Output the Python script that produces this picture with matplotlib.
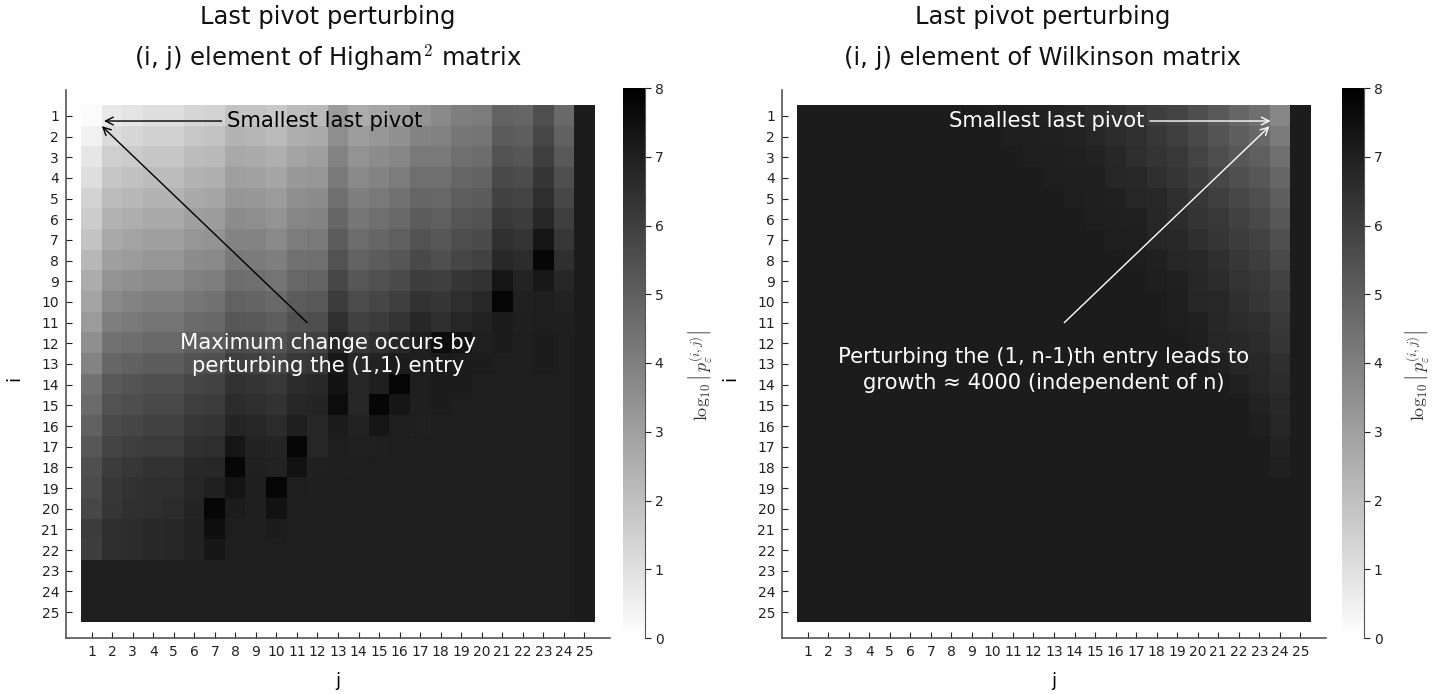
import numpy as np
import matplotlib
matplotlib.use("Agg")
import matplotlib.pyplot as plt

plt.rcParams['font.family'] = ['DejaVu Sans']
plt.rcParams['mathtext.fontset'] = 'cm'

# log10 |last pivot| when perturbing (i, j)
higham_sq = [
    [0.15, 0.7, 0.85, 1.0, 1.0, 1.3, 1.4, 1.9, 1.85, 1.7, 2.1, 2.2, 3.1, 2.6, 2.8, 3.0, 3.4, 3.7, 4.0, 4.1, 4.9, 4.8, 5.5, 4.7, 7.1],
    [0.45, 1.15, 1.3, 1.45, 1.45, 1.75, 1.85, 2.35, 2.3, 2.15, 2.55, 2.65, 3.55, 3.05, 3.25, 3.45, 3.85, 3.95, 4.25, 4.35, 5.15, 5.05, 5.75, 4.95, 7.1],
    [0.8, 1.5, 1.65, 1.8, 1.8, 2.1, 2.2, 2.7, 2.65, 2.5, 2.9, 3.0, 3.9, 3.4, 3.6, 3.8, 4.2, 4.2, 4.5, 4.6, 5.4, 5.3, 6.0, 5.2, 7.1],
    [1.05, 1.8, 1.95, 2.1, 2.1, 2.4, 2.5, 3.0, 2.95, 2.8, 3.2, 3.3, 4.2, 3.7, 3.9, 4.1, 4.5, 4.5, 4.8, 4.9, 5.7, 5.6, 6.3, 5.5, 7.1],
    [1.35, 2.1, 2.25, 2.4, 2.4, 2.7, 2.8, 3.3, 3.25, 3.1, 3.5, 3.6, 4.5, 4.0, 4.2, 4.4, 4.8, 4.75, 5.05, 5.15, 5.95, 5.85, 6.55, 5.75, 7.1],
    [1.6, 2.4, 2.55, 2.7, 2.7, 3.0, 3.1, 3.6, 3.55, 3.4, 3.8, 3.9, 4.8, 4.3, 4.5, 4.7, 5.1, 5.0, 5.3, 5.4, 6.2, 6.1, 6.8, 6.0, 7.1],
    [1.9, 2.7, 2.85, 3.0, 3.0, 3.3, 3.4, 3.9, 3.85, 3.7, 4.1, 4.2, 5.1, 4.6, 4.8, 5.0, 5.4, 5.25, 5.55, 5.65, 6.45, 6.35, 7.3, 6.25, 7.1],
    [2.25, 3.0, 3.15, 3.3, 3.3, 3.6, 3.7, 4.2, 4.15, 4.0, 4.4, 4.5, 5.4, 4.9, 5.1, 5.3, 5.7, 5.5, 5.8, 5.9, 6.7, 6.6, 7.8, 6.5, 7.1],
    [2.6, 3.35, 3.5, 3.65, 3.65, 3.95, 4.05, 4.55, 4.5, 4.35, 4.75, 4.85, 5.75, 5.25, 5.45, 5.65, 6.05, 6.0, 6.3, 6.4, 7.3, 6.85, 7.2, 6.75, 7.1],
    [2.9, 3.7, 3.85, 4.0, 4.0, 4.3, 4.4, 4.9, 4.85, 4.7, 5.1, 5.2, 6.1, 5.6, 5.8, 6.0, 6.4, 6.3, 6.55, 6.7, 7.8, 6.95, 7.05, 6.9, 7.1],
    [3.15, 4.05, 4.2, 4.35, 4.35, 4.65, 4.75, 5.25, 5.2, 5.05, 5.45, 5.55, 6.45, 5.95, 6.15, 6.35, 6.75, 6.55, 6.8, 6.9, 7.1, 7.0, 7.05, 7.0, 7.1],
    [3.5, 4.4, 4.55, 4.7, 4.7, 5.0, 5.1, 5.6, 5.55, 5.4, 5.8, 5.9, 6.8, 6.3, 6.5, 6.7, 7.0, 7.6, 7.4, 6.95, 7.1, 7.05, 7.1, 7.05, 7.1],
    [3.9, 4.8, 4.95, 5.1, 5.1, 5.4, 5.5, 6.0, 5.95, 5.8, 6.2, 6.3, 7.2, 6.7, 6.9, 7.1, 7.0, 7.15, 7.1, 7.1, 7.05, 7.05, 7.1, 7.05, 7.1],
    [4.4, 5.2, 5.35, 5.5, 5.5, 5.8, 5.9, 6.4, 6.35, 6.2, 6.6, 6.7, 7.4, 6.75, 7.0, 7.8, 7.0, 7.1, 7.1, 7.05, 7.05, 7.05, 7.05, 7.05, 7.1],
    [4.65, 5.4, 5.55, 5.7, 5.7, 6.0, 6.1, 6.6, 6.55, 6.4, 6.8, 6.85, 7.6, 6.75, 7.8, 7.3, 7.0, 7.1, 7.05, 7.05, 7.05, 7.05, 7.05, 7.05, 7.1],
    [4.95, 5.65, 5.8, 5.95, 5.95, 6.25, 6.35, 6.85, 6.8, 6.65, 7.0, 6.8, 7.1, 6.9, 7.3, 7.05, 6.95, 7.05, 7.05, 7.05, 7.05, 7.05, 7.05, 7.05, 7.1],
    [5.25, 5.85, 6.0, 6.15, 6.15, 6.45, 6.55, 7.3, 6.9, 6.85, 7.8, 6.8, 7.05, 6.95, 7.0, 7.05, 7.05, 7.05, 7.05, 7.05, 7.05, 7.05, 7.05, 7.05, 7.1],
    [5.5, 6.1, 6.25, 6.4, 6.4, 6.7, 6.75, 7.8, 6.95, 6.9, 7.4, 6.95, 7.05, 7.0, 7.05, 7.05, 7.05, 7.05, 7.05, 7.05, 7.05, 7.05, 7.05, 7.05, 7.1],
    [5.6, 6.25, 6.4, 6.5, 6.55, 6.8, 6.95, 7.35, 7.0, 7.8, 7.05, 7.0, 7.05, 7.05, 7.05, 7.05, 7.05, 7.05, 7.05, 7.05, 7.05, 7.05, 7.05, 7.05, 7.1],
    [5.75, 6.3, 6.45, 6.55, 6.6, 6.85, 7.8, 7.1, 7.0, 7.4, 7.05, 7.05, 7.05, 7.05, 7.05, 7.05, 7.05, 7.05, 7.05, 7.05, 7.05, 7.05, 7.05, 7.05, 7.1],
    [6.1, 6.55, 6.6, 6.7, 6.75, 6.9, 7.5, 7.05, 7.05, 7.1, 7.05, 7.05, 7.05, 7.05, 7.05, 7.05, 7.05, 7.05, 7.05, 7.05, 7.05, 7.05, 7.05, 7.05, 7.1],
    [6.05, 6.55, 6.6, 6.7, 6.75, 6.9, 7.25, 7.05, 7.05, 7.05, 7.05, 7.05, 7.05, 7.05, 7.05, 7.05, 7.05, 7.05, 7.05, 7.05, 7.05, 7.05, 7.05, 7.05, 7.1],
    [7.05, 7.05, 7.05, 7.05, 7.05, 7.05, 7.05, 7.05, 7.05, 7.05, 7.05, 7.05, 7.05, 7.05, 7.05, 7.05, 7.05, 7.05, 7.05, 7.05, 7.05, 7.05, 7.05, 7.05, 7.1],
    [7.05, 7.05, 7.05, 7.05, 7.05, 7.05, 7.05, 7.05, 7.05, 7.05, 7.05, 7.05, 7.05, 7.05, 7.05, 7.05, 7.05, 7.05, 7.05, 7.05, 7.05, 7.05, 7.05, 7.05, 7.1],
    [7.05, 7.05, 7.05, 7.05, 7.05, 7.05, 7.05, 7.05, 7.05, 7.05, 7.05, 7.05, 7.05, 7.05, 7.05, 7.05, 7.05, 7.05, 7.05, 7.05, 7.05, 7.05, 7.05, 7.05, 7.1],
]

wilkinson = [
    [7.1, 7.1, 7.1, 7.1, 7.1, 7.1, 7.1, 7.1, 7.1, 7.05, 7.0, 6.95, 6.9, 6.8, 6.6, 6.5, 6.25, 6.05, 5.85, 5.55, 5.2, 4.8, 4.5, 3.8, 7.1],
    [7.1, 7.1, 7.1, 7.1, 7.1, 7.1, 7.1, 7.1, 7.1, 7.1, 7.05, 7.0, 6.95, 6.9, 6.8, 6.6, 6.45, 6.25, 6.0, 5.7, 5.35, 5.05, 4.75, 4.15, 7.1],
    [7.1, 7.1, 7.1, 7.1, 7.1, 7.1, 7.1, 7.1, 7.1, 7.1, 7.1, 7.05, 7.0, 6.95, 6.9, 6.75, 6.55, 6.35, 6.2, 5.85, 5.55, 5.25, 5.0, 4.5, 7.1],
    [7.1, 7.1, 7.1, 7.1, 7.1, 7.1, 7.1, 7.1, 7.1, 7.1, 7.1, 7.1, 7.05, 7.0, 7.0, 6.8, 6.7, 6.5, 6.3, 6.05, 5.75, 5.5, 5.25, 4.8, 7.1],
    [7.1, 7.1, 7.1, 7.1, 7.1, 7.1, 7.1, 7.1, 7.1, 7.1, 7.1, 7.1, 7.1, 7.05, 7.0, 6.95, 6.8, 6.7, 6.5, 6.25, 6.0, 5.75, 5.5, 5.05, 7.1],
    [7.1, 7.1, 7.1, 7.1, 7.1, 7.1, 7.1, 7.1, 7.1, 7.1, 7.1, 7.1, 7.1, 7.1, 7.05, 7.0, 6.95, 6.75, 6.6, 6.35, 6.2, 5.95, 5.7, 5.25, 7.1],
    [7.1, 7.1, 7.1, 7.1, 7.1, 7.1, 7.1, 7.1, 7.1, 7.1, 7.1, 7.1, 7.1, 7.1, 7.1, 7.05, 7.0, 6.8, 6.7, 6.5, 6.3, 6.1, 5.9, 5.5, 7.1],
    [7.1, 7.1, 7.1, 7.1, 7.1, 7.1, 7.1, 7.1, 7.1, 7.1, 7.1, 7.1, 7.1, 7.1, 7.1, 7.1, 7.05, 6.95, 6.8, 6.7, 6.5, 6.25, 6.05, 5.7, 7.1],
    [7.1, 7.1, 7.1, 7.1, 7.1, 7.1, 7.1, 7.1, 7.1, 7.1, 7.1, 7.1, 7.1, 7.1, 7.1, 7.1, 7.1, 7.05, 6.95, 6.75, 6.6, 6.35, 6.2, 5.9, 7.1],
    [7.1, 7.1, 7.1, 7.1, 7.1, 7.1, 7.1, 7.1, 7.1, 7.1, 7.1, 7.1, 7.1, 7.1, 7.1, 7.1, 7.1, 7.1, 7.0, 6.8, 6.7, 6.5, 6.3, 6.05, 7.1],
    [7.1, 7.1, 7.1, 7.1, 7.1, 7.1, 7.1, 7.1, 7.1, 7.1, 7.1, 7.1, 7.1, 7.1, 7.1, 7.1, 7.1, 7.1, 7.05, 6.95, 6.75, 6.6, 6.5, 6.2, 7.1],
    [7.1, 7.1, 7.1, 7.1, 7.1, 7.1, 7.1, 7.1, 7.1, 7.1, 7.1, 7.1, 7.1, 7.1, 7.1, 7.1, 7.1, 7.1, 7.1, 7.0, 6.8, 6.7, 6.6, 6.3, 7.1],
    [7.1, 7.1, 7.1, 7.1, 7.1, 7.1, 7.1, 7.1, 7.1, 7.1, 7.1, 7.1, 7.1, 7.1, 7.1, 7.1, 7.1, 7.1, 7.1, 7.1, 6.95, 6.8, 6.7, 6.5, 7.1],
    [7.1, 7.1, 7.1, 7.1, 7.1, 7.1, 7.1, 7.1, 7.1, 7.1, 7.1, 7.1, 7.1, 7.1, 7.1, 7.1, 7.1, 7.1, 7.1, 7.1, 7.1, 6.95, 6.8, 6.6, 7.1],
    [7.1, 7.1, 7.1, 7.1, 7.1, 7.1, 7.1, 7.1, 7.1, 7.1, 7.1, 7.1, 7.1, 7.1, 7.1, 7.1, 7.1, 7.1, 7.1, 7.1, 7.1, 7.1, 6.9, 6.7, 7.1],
    [7.1, 7.1, 7.1, 7.1, 7.1, 7.1, 7.1, 7.1, 7.1, 7.1, 7.1, 7.1, 7.1, 7.1, 7.1, 7.1, 7.1, 7.1, 7.1, 7.1, 7.1, 7.1, 7.0, 6.8, 7.1],
    [7.1, 7.1, 7.1, 7.1, 7.1, 7.1, 7.1, 7.1, 7.1, 7.1, 7.1, 7.1, 7.1, 7.1, 7.1, 7.1, 7.1, 7.1, 7.1, 7.1, 7.1, 7.1, 7.1, 6.9, 7.1],
    [7.1, 7.1, 7.1, 7.1, 7.1, 7.1, 7.1, 7.1, 7.1, 7.1, 7.1, 7.1, 7.1, 7.1, 7.1, 7.1, 7.1, 7.1, 7.1, 7.1, 7.1, 7.1, 7.1, 6.95, 7.1],
    [7.1, 7.1, 7.1, 7.1, 7.1, 7.1, 7.1, 7.1, 7.1, 7.1, 7.1, 7.1, 7.1, 7.1, 7.1, 7.1, 7.1, 7.1, 7.1, 7.1, 7.1, 7.1, 7.1, 7.1, 7.1],
    [7.1, 7.1, 7.1, 7.1, 7.1, 7.1, 7.1, 7.1, 7.1, 7.1, 7.1, 7.1, 7.1, 7.1, 7.1, 7.1, 7.1, 7.1, 7.1, 7.1, 7.1, 7.1, 7.1, 7.1, 7.1],
    [7.1, 7.1, 7.1, 7.1, 7.1, 7.1, 7.1, 7.1, 7.1, 7.1, 7.1, 7.1, 7.1, 7.1, 7.1, 7.1, 7.1, 7.1, 7.1, 7.1, 7.1, 7.1, 7.1, 7.1, 7.1],
    [7.1, 7.1, 7.1, 7.1, 7.1, 7.1, 7.1, 7.1, 7.1, 7.1, 7.1, 7.1, 7.1, 7.1, 7.1, 7.1, 7.1, 7.1, 7.1, 7.1, 7.1, 7.1, 7.1, 7.1, 7.1],
    [7.1, 7.1, 7.1, 7.1, 7.1, 7.1, 7.1, 7.1, 7.1, 7.1, 7.1, 7.1, 7.1, 7.1, 7.1, 7.1, 7.1, 7.1, 7.1, 7.1, 7.1, 7.1, 7.1, 7.1, 7.1],
    [7.1, 7.1, 7.1, 7.1, 7.1, 7.1, 7.1, 7.1, 7.1, 7.1, 7.1, 7.1, 7.1, 7.1, 7.1, 7.1, 7.1, 7.1, 7.1, 7.1, 7.1, 7.1, 7.1, 7.1, 7.1],
    [7.1, 7.1, 7.1, 7.1, 7.1, 7.1, 7.1, 7.1, 7.1, 7.1, 7.1, 7.1, 7.1, 7.1, 7.1, 7.1, 7.1, 7.1, 7.1, 7.1, 7.1, 7.1, 7.1, 7.1, 7.1],
]

idx = list(range(1, 26))
cbar_ticks = [0, 1, 2, 3, 4, 5, 6, 7, 8]
cbar_label = r"$\log_{10}\left|\,p_{\varepsilon}^{(i,j)}\right|$"

W, H = 1444, 694
fig = plt.figure(figsize=(W / 100, H / 100), dpi=100)


def px(x0, y0, w, h):
    # pixel box (left, top, width, height) -> figure fraction
    return [x0 / W, 1 - (y0 + h) / H, w / W, h / H]


def panel(ax_box, cb_box, data, name, ttl_x, lbl_x):
    ax = fig.add_axes(px(*ax_box))
    im = ax.imshow(np.array(data), cmap='gray_r', vmin=0, vmax=8,
                   extent=(0.5, 25.5, 25.5, 0.5), aspect='auto',
                   interpolation='nearest')
    ax.set_xlim(-0.25, 26.25)
    ax.set_ylim(26.25, -0.25)
    ax.set_xticks(idx)
    ax.set_yticks(idx)
    ax.tick_params(direction='in', length=4, width=0.8, labelsize=10,
                   colors='#222222', pad=5)
    for s in ['top', 'right']:
        ax.spines[s].set_visible(False)
    for s in ['left', 'bottom']:
        ax.spines[s].set_color('#555555')
        ax.spines[s].set_linewidth(1.2)

    xc = ttl_x / W
    fig.text(xc, 1 - 17 / H, "Last pivot perturbing", ha='center',
             va='center', fontsize=17.5, color='#111111')
    fig.text(xc, 1 - 58 / H, "(i, j) element of " + name + " matrix",
             ha='center', va='center', fontsize=17.5, color='#111111')

    x_mid = (ax_box[0] + ax_box[2] / 2) / W
    fig.text(x_mid, 1 - 681 / H, "j", ha='center', va='center', fontsize=13)
    fig.text((ax_box[0] - 52) / W, 1 - 378 / H, "i", ha='center', va='center',
             fontsize=13, rotation=90)

    cax = fig.add_axes(px(*cb_box))
    cb = fig.colorbar(im, cax=cax, ticks=cbar_ticks)
    cb.outline.set_visible(False)
    cax.spines['right'].set_visible(True)
    cax.spines['right'].set_color('#555555')
    cax.tick_params(direction='out', length=4, width=0.8, labelsize=10,
                    colors='#222222', pad=3)
    fig.text(lbl_x / W, 1 - 375 / H, cbar_label, rotation=90, ha='center',
             va='center', fontsize=13, color='#333333')
    return ax


ax1 = panel((66, 90, 544, 548), (623, 88, 22, 550), higham_sq,
            r"Higham$^2$", 328, 700)
ax2 = panel((782, 90, 544, 548), (1342, 88, 22, 550), wilkinson,
            "Wilkinson", 1043, 1417)

# left panel notes
ax1.annotate("Smallest last pivot", xy=(1.6, 1.25), xytext=(7.6, 1.25),
             ha='left', va='center', fontsize=15.2, color='black',
             arrowprops=dict(arrowstyle='->', color='black', lw=1,
                             shrinkA=2, shrinkB=0, mutation_scale=14))
ax1.annotate("", xy=(1.5, 1.5), xytext=(11.5, 11),
             arrowprops=dict(arrowstyle='->', color='black', lw=1,
                             shrinkA=0, shrinkB=0, mutation_scale=14))
ax1.text(12.5, 12.55, "Maximum change occurs by\nperturbing the (1,1) entry",
         ha='center', va='center', fontsize=15.2, color='white',
         multialignment='center', linespacing=1.2)

# right panel notes
ax2.annotate("Smallest last pivot", xy=(23.55, 1.25), xytext=(17.4, 1.25),
             ha='right', va='center', fontsize=15.2, color='white',
             arrowprops=dict(arrowstyle='->', color='white', lw=1,
                             shrinkA=2, shrinkB=0, mutation_scale=14))
ax2.annotate("", xy=(23.5, 1.5), xytext=(13.5, 11),
             arrowprops=dict(arrowstyle='->', color='white', lw=1,
                             shrinkA=0, shrinkB=0, mutation_scale=14))
ax2.text(12.5, 13.3,
         "Perturbing the (1, n-1)th entry leads to\ngrowth \u2248 4000 (independent of n)",
         ha='center', va='center', fontsize=15.2, color='white',
         multialignment='center', linespacing=1.35)

fig.savefig("out.png", dpi=100)
